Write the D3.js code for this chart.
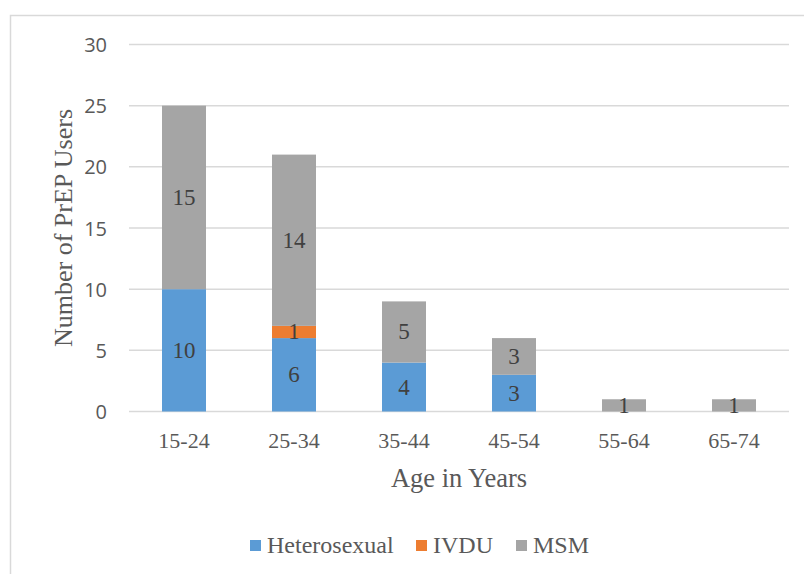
<!DOCTYPE html>
<html>
<head>
<meta charset="utf-8">
<script src="https://cdn.jsdelivr.net/npm/d3@7"></script>
<style>
  html, body { margin: 0; padding: 0; background: #ffffff; overflow: hidden; }
  #chart { position: relative; width: 804px; height: 574px; overflow: hidden; }
  #chart svg { display: block; transform: scale(0.5); transform-origin: 0 0; }
</style>
</head>
<body>
<div id="chart"></div>
<script>
// Age groups and PrEP users per transmission category
const ageGroups = ["15-24", "25-34", "35-44", "45-54", "55-64", "65-74"];
const seriesNames = ["Heterosexual", "IVDU", "MSM"];
const heterosexual = [10, 6, 4, 3, 0, 0];
const ivdu = [0, 1, 0, 0, 0, 0];
const msm = [15, 14, 5, 3, 1, 1];
const yTicks = [0, 5, 10, 15, 20, 25, 30];
const colors = ["#5b9bd5", "#ed7d31", "#a5a5a5"];

const SERIF = '"Liberation Serif", "Times New Roman", Tinos, "Nimbus Roman", FreeSerif, serif';
const SANS = '"Open Sans", sans-serif';

const width = 804, height = 574;
const margin = { left: 129, right: 15, top: 44.5, bottom: 162.5 };

const rows = ageGroups.map((g, i) => ({
  group: g,
  Heterosexual: heterosexual[i],
  IVDU: ivdu[i],
  MSM: msm[i]
}));
const stacked = d3.stack().keys(seriesNames)(rows);

// drawn on a double-resolution canvas and shown at half scale
const svg = d3.select("#chart").append("svg")
  .attr("width", width * 2).attr("height", height * 2)
  .attr("viewBox", `0 0 ${width} ${height}`);

// text helper: font set as attribute and inline style
function font(sel, family, size) {
  return sel
    .attr("font-family", family)
    .attr("font-size", size)
    .style("font-family", family)
    .style("font-size", size + "px");
}

// chart frame (top and left edges fall inside the window)
svg.append("rect")
  .attr("x", 10.5).attr("y", 15.5)
  .attr("width", 820).attr("height", 600)
  .attr("fill", "none").attr("stroke", "#d9d9d9").attr("stroke-width", 1.5);

const x = d3.scaleBand()
  .domain(ageGroups)
  .range([margin.left, width - margin.right])
  .paddingInner(0.6).paddingOuter(0.3);

const y = d3.scaleLinear()
  .domain([0, 30])
  .range([height - margin.bottom, margin.top]);

// horizontal gridlines
svg.append("g").selectAll("line")
  .data(yTicks)
  .join("line")
  .attr("x1", margin.left).attr("x2", width - margin.right)
  .attr("y1", d => y(d)).attr("y2", d => y(d))
  .attr("stroke", "#d9d9d9").attr("stroke-width", 1.5);

// y axis labels
const yAxis = d3.axisLeft(y).tickValues(yTicks).tickSize(0).tickPadding(0);
const yg = svg.append("g")
  .attr("transform", `translate(${margin.left - 22},0)`)
  .call(yAxis)
  .attr("font-family", SANS)
  .attr("font-size", 20);
yg.select(".domain").remove();
yg.selectAll("text")
  .call(font, SANS, 20)
  .attr("fill", "#595959")
  .attr("dy", "0.35em");

// stacked bars
const layers = svg.append("g").selectAll("g")
  .data(stacked)
  .join("g")
  .attr("fill", (d, i) => colors[i]);

layers.selectAll("rect")
  .data(d => d.map(v => ({ v, key: d.key })))
  .join("rect")
  .attr("x", d => x(d.v.data.group))
  .attr("width", x.bandwidth())
  .attr("y", d => y(d.v[1]))
  .attr("height", d => y(d.v[0]) - y(d.v[1]));

// value labels centred in each non-empty segment
const labels = [];
stacked.forEach(layer => {
  layer.forEach(v => {
    const val = v[1] - v[0];
    if (val > 0) labels.push({ group: v.data.group, mid: (v[0] + v[1]) / 2, val });
  });
});
svg.selectAll("text.value")
  .data(labels)
  .join("text")
  .attr("class", "value")
  .attr("x", d => x(d.group) + x.bandwidth() / 2)
  .attr("y", d => y(d.mid) + 7.5)
  .attr("text-anchor", "middle")
  .call(font, SERIF, 23)
  .attr("fill", "#404040")
  .text(d => d.val);

// category labels under each bar
svg.selectAll("text.cat")
  .data(x.domain())
  .join("text")
  .attr("class", "cat")
  .attr("x", d => x(d) + x.bandwidth() / 2)
  .attr("y", y(0) + 36)
  .attr("text-anchor", "middle")
  .call(font, SERIF, 22)
  .attr("fill", "#595959")
  .text(d => d);

// axis titles
svg.append("text")
  .attr("x", (margin.left + width - margin.right) / 2)
  .attr("y", 487)
  .attr("text-anchor", "middle")
  .call(font, SERIF, 26.5)
  .attr("fill", "#595959")
  .text("Age in Years");

svg.append("text")
  .attr("transform", `translate(72,${(y(0) + y(30)) / 2}) rotate(-90)`)
  .attr("text-anchor", "middle")
  .call(font, SERIF, 26)
  .attr("fill", "#595959")
  .text("Number of PrEP Users");

// legend
const legendX = [250, 416, 516];
svg.selectAll("rect.key")
  .data(seriesNames)
  .join("rect")
  .attr("class", "key")
  .attr("x", (d, i) => legendX[i]).attr("y", 540)
  .attr("width", 11).attr("height", 11)
  .attr("fill", (d, i) => colors[i]);
svg.selectAll("text.key")
  .data(seriesNames)
  .join("text")
  .attr("class", "key")
  .attr("x", (d, i) => legendX[i] + 17).attr("y", 553)
  .call(font, SERIF, 24)
  .attr("fill", "#595959")
  .text(d => d);
</script>
</body>
</html>
